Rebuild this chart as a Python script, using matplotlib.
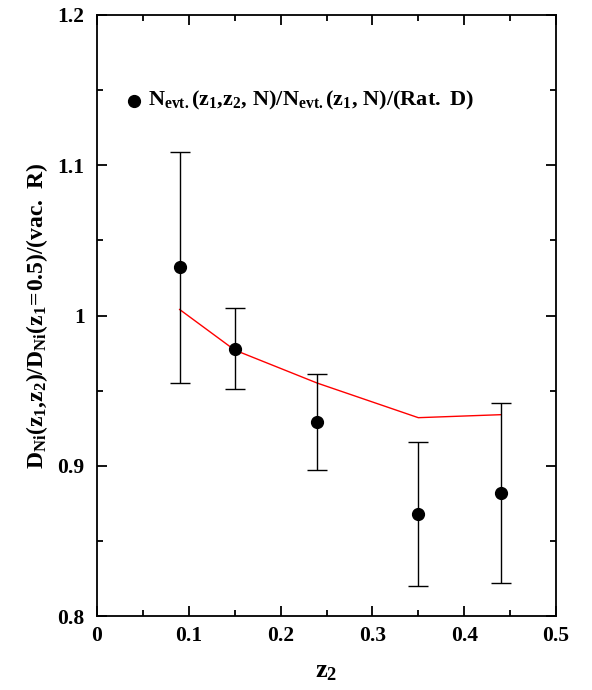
import numpy as np
import matplotlib
matplotlib.use('Agg')
import matplotlib.pyplot as plt
from matplotlib.ticker import MultipleLocator

plt.rcParams['font.family'] = 'Liberation Serif'
plt.rcParams['font.weight'] = 'bold'
plt.rcParams['mathtext.fontset'] = 'custom'
plt.rcParams['mathtext.rm'] = 'Liberation Serif:bold'
plt.rcParams['mathtext.it'] = 'Liberation Serif:bold'
plt.rcParams['mathtext.bf'] = 'Liberation Serif:bold'
plt.rcParams['mathtext.default'] = 'rm'

# data
z2 = [0.09, 0.15, 0.24, 0.35, 0.44]
ratio = [1.032, 0.978, 0.929, 0.868, 0.882]
err_hi = [1.109, 1.005, 0.961, 0.916, 0.942]
err_lo = [0.955, 0.951, 0.897, 0.820, 0.822]
# vacuum curve (red)
curve_x = [0.09, 0.15, 0.24, 0.35, 0.44]
curve_y = [1.004, 0.977, 0.955, 0.932, 0.934]

xticks = [0, 0.1, 0.2, 0.3, 0.4, 0.5]
xticklabels = ['0', '0.1', '0.2', '0.3', '0.4', '0.5']
yticks = [0.8, 0.9, 1.0, 1.1, 1.2]
yticklabels = ['0.8', '0.9', '1', '1.1', '1.2']

ratio = np.array(ratio)
yerr = [ratio - np.array(err_lo), np.array(err_hi) - ratio]

fig = plt.figure(figsize=(5.92, 6.9), dpi=100)
ax = fig.add_axes([0.1639, 0.1072, 0.7753, 0.8711])

ax.plot(curve_x, curve_y, color='red', lw=1.0, zorder=2)
ax.errorbar(z2, ratio, yerr=yerr, fmt='o', color='black', ms=8.5,
            elinewidth=1.0, capsize=7.5, capthick=1.0, zorder=3)

ax.set_xlim(0, 0.5)
ax.set_ylim(0.8, 1.2)
ax.set_xticks(xticks)
ax.set_xticklabels(xticklabels)
ax.set_yticks(yticks)
ax.set_yticklabels(yticklabels)
ax.xaxis.set_minor_locator(MultipleLocator(0.05))
ax.yaxis.set_minor_locator(MultipleLocator(0.05))
ax.tick_params(which='both', direction='in', top=True, right=True, width=1.3)
ax.tick_params(which='major', length=7.5, labelsize=15.5)
ax.tick_params(axis='y', which='major', pad=9)
ax.tick_params(axis='x', which='major', pad=7)
ax.tick_params(which='minor', length=4)
for s in ax.spines.values():
    s.set_linewidth(1.3)

ax.set_xlabel(r'$z_2$', fontsize=19, labelpad=11)
ax.set_ylabel(r'$D_{Ni}(z_1{,}z_2)/D_{Ni}(z_1\!=\!0.5)/(vac.\ R)$', fontsize=17, labelpad=5)

# legend entry
ax.plot([0.04], [1.143], 'o', color='black', ms=8.5)
ax.text(0.055, 1.143, r'$N_{evt.}(z_1{,}z_2{,}\ N)/N_{evt.}(z_1{,}\ N)/(Rat.\ D)$',
        fontsize=16, va='center', ha='left')

fig.savefig('out.png', dpi=100)
